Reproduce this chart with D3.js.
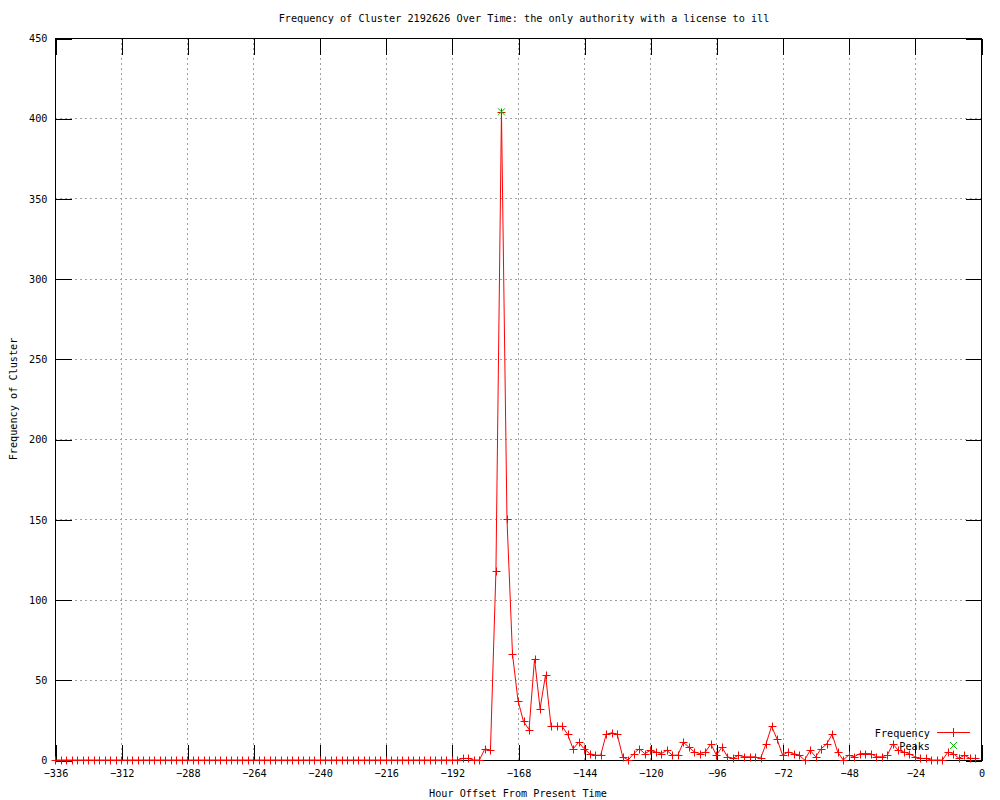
<!DOCTYPE html>
<html>
<head>
<meta charset="utf-8">
<script src="https://cdn.jsdelivr.net/npm/d3@7"></script>
<style>
  html, body { margin: 0; padding: 0; background: #fff; }
  svg { display: block; }
  text { font-family: "DejaVu Sans Mono", "Liberation Mono", monospace; font-size: 10.2px; fill: #000; }
</style>
</head>
<body>
<svg id="chart" width="1000" height="800"></svg>
<script>
// ---- data ----
const hours = [
  -336,-334,-332,-330,-328,-326,-324,-322,-320,-318,-316,-314,-312,-310,-308,-306,-304,-302,-300,-298,
  -296,-294,-292,-290,-288,-286,-284,-282,-280,-278,-276,-274,-272,-270,-268,-266,-264,-262,-260,-258,
  -256,-254,-252,-250,-248,-246,-244,-242,-240,-238,-236,-234,-232,-230,-228,-226,-224,-222,-220,-218,
  -216,-214,-212,-210,-208,-206,-204,-202,-200,-198,-196,-194,-192,-190,-188,-186,-184,-182,-180,-178,
  -176,-174,-172,-170,-168,-166,-164,-162,-160,-158,-156,-154,-152,-150,-148,-146,-144,-142,-140,-138,
  -136,-134,-132,-130,-128,-126,-124,-122,-120,-118,-116,-114,-112,-110,-108,-106,-104,-102,-100,-98,
  -96,-94,-92,-90,-88,-86,-84,-82,-80,-78,-76,-74,-72,-70,-68,-66,-64,-62,-60,-58,
  -56,-54,-52,-50,-48,-46,-44,-42,-40,-38,-36,-34,-32,-30,-28,-26,-24,-22,-20,-18,
  -16,-14,-12,-10,-8,-6,-4,-2
];
const frequency = [
  0,0,0,0,0,0,0,0,0,0,0,0,0,0,0,0,0,0,0,0,
  0,0,0,0,0,0,0,0,0,0,0,0,0,0,0,0,0,0,0,0,
  0,0,0,0,0,0,0,0,0,0,0,0,0,0,0,0,0,0,0,0,
  0,0,0,0,0,0,0,0,0,0,0,0,0,0,1,1,0,0,7,6,
  118,404,150,66,37,24,19,63,32,53,21,21,21,16,7,11,7,4,3,3,
  16,17,16,2,0,4,7,4,6,5,4,6,3,3,11,8,5,4,5,10,
  3,8,2,1,3,2,2,2,1,10,21,13,3,5,4,3,0,6,2,7,
  10,16,5,0,3,2,4,4,4,2,2,3,10,6,5,4,2,1,1,0,
  0,0,5,4,1,3,1,1
];
const peakHours = [-174];
const peakValues = [404];
const xTicks = [-336,-312,-288,-264,-240,-216,-192,-168,-144,-120,-96,-72,-48,-24,0];
const yTicks = [0,50,100,150,200,250,300,350,400,450];
const titleText = "Frequency of Cluster 2192626 Over Time: the only authority with a license to ill";
const xLabel = "Hour Offset From Present Time";
const yLabel = "Frequency of Cluster";

// ---- layout ----
const L = 55, R = 981, T = 38, B = 760;
const svg = d3.select("#chart");
const x = d3.scaleLinear().domain([-336, 0]).range([L, R]);
const y = d3.scaleLinear().domain([0, 450]).range([B, T]);
const px = v => Math.round(v) + 0.5;

const series = hours.map((h, i) => ({h, v: frequency[i]}));
const peaks = peakHours.map((h, i) => ({h, v: peakValues[i]}));

// grid
const grid = svg.append("g").attr("stroke", "#a0a0a0").attr("stroke-dasharray", "2,3").attr("shape-rendering", "crispEdges");
grid.selectAll("line.gx").data(xTicks.filter(t => t > -336 && t < 0)).join("line")
  .attr("x1", d => px(x(d))).attr("x2", d => px(x(d))).attr("y1", T).attr("y2", B);
grid.selectAll("line.gy").data(yTicks.filter(t => t > 0 && t < 450)).join("line")
  .attr("y1", d => px(y(d))).attr("y2", d => px(y(d))).attr("x1", L).attr("x2", R);

// axes: ticks inward, mirrored
const tl = 16;
const xb = d3.axisBottom(x).tickValues(xTicks).tickSizeInner(-tl).tickSizeOuter(0).tickPadding(tl + 5).tickFormat(d3.format("d"));
const xt = d3.axisTop(x).tickValues(xTicks).tickSizeInner(-tl).tickSizeOuter(0).tickFormat("");
const yl = d3.axisLeft(y).tickValues(yTicks).tickSizeInner(-tl).tickSizeOuter(0).tickPadding(tl + 8).tickFormat(d3.format("d"));
const yr = d3.axisRight(y).tickValues(yTicks).tickSizeInner(-tl).tickSizeOuter(0).tickFormat("");

function styleAxis(g) {
  g.select(".domain").remove();
  g.selectAll("line").attr("stroke", "#000").attr("shape-rendering", "crispEdges");
  g.selectAll("text").attr("font-family", "DejaVu Sans Mono, monospace").attr("font-size", "10.2px").attr("fill", "#000");
}
svg.append("g").attr("transform", `translate(0.5,${B + 0.5})`).call(xb).call(styleAxis)
  .selectAll("text").attr("dy", "0.35em").attr("y", 13);
svg.append("g").attr("transform", `translate(0.5,${T + 0.5})`).call(xt).call(styleAxis);
svg.append("g").attr("transform", `translate(${L + 0.5},0.5)`).call(yl).call(styleAxis)
  .selectAll("text").attr("x", -8);
svg.append("g").attr("transform", `translate(${R + 0.5},0.5)`).call(yr).call(styleAxis);

// border
svg.append("rect").attr("x", L + 0.5).attr("y", T + 0.5).attr("width", R - L).attr("height", B - T)
  .attr("fill", "none").attr("stroke", "#000").attr("shape-rendering", "crispEdges");

// legend
const lg = svg.append("g");
lg.append("text").attr("x", 930).attr("y", 737).attr("text-anchor", "end").text("Frequency");
lg.append("line").attr("x1", 937).attr("x2", 970).attr("y1", 732.5).attr("y2", 732.5).attr("stroke", "#f00");
lg.append("path").attr("d", "M949,732.5H958M953.5,728V737").attr("stroke", "#f00").attr("fill", "none");
lg.append("text").attr("x", 930).attr("y", 750).attr("text-anchor", "end").text("Peaks");
lg.append("path").attr("d", "M950,742L957,749M957,742L950,749").attr("stroke", "#00c000").attr("fill", "none");

// line
const line = d3.line().x(d => x(d.h)).y(d => y(d.v));
svg.append("path").datum(series).attr("d", line).attr("fill", "none").attr("stroke", "#f00").attr("stroke-width", 1);

// markers
svg.append("g").selectAll("path").data(series).join("path")
  .attr("d", d => { const cx = Math.round(x(d.h)) + 0.5, cy = Math.round(y(d.v)) + 0.5;
    return `M${cx - 4},${cy}H${cx + 4}M${cx},${cy - 4}V${cy + 4}`; })
  .attr("stroke", "#f00").attr("fill", "none");

// peaks
svg.append("g").selectAll("path").data(peaks).join("path")
  .attr("d", d => { const cx = x(d.h), cy = y(d.v);
    return `M${cx - 3.5},${cy - 3.5}L${cx + 3.5},${cy + 3.5}M${cx + 3.5},${cy - 3.5}L${cx - 3.5},${cy + 3.5}`; })
  .attr("stroke", "#00c000").attr("fill", "none");

// titles
svg.append("text").attr("x", 524).attr("y", 22).attr("text-anchor", "middle").text(titleText);
svg.append("text").attr("x", 518).attr("y", 797).attr("text-anchor", "middle").text(xLabel);
svg.append("text").attr("transform", "translate(17,399) rotate(-90)").attr("text-anchor", "middle").text(yLabel);
</script>
</body>
</html>
